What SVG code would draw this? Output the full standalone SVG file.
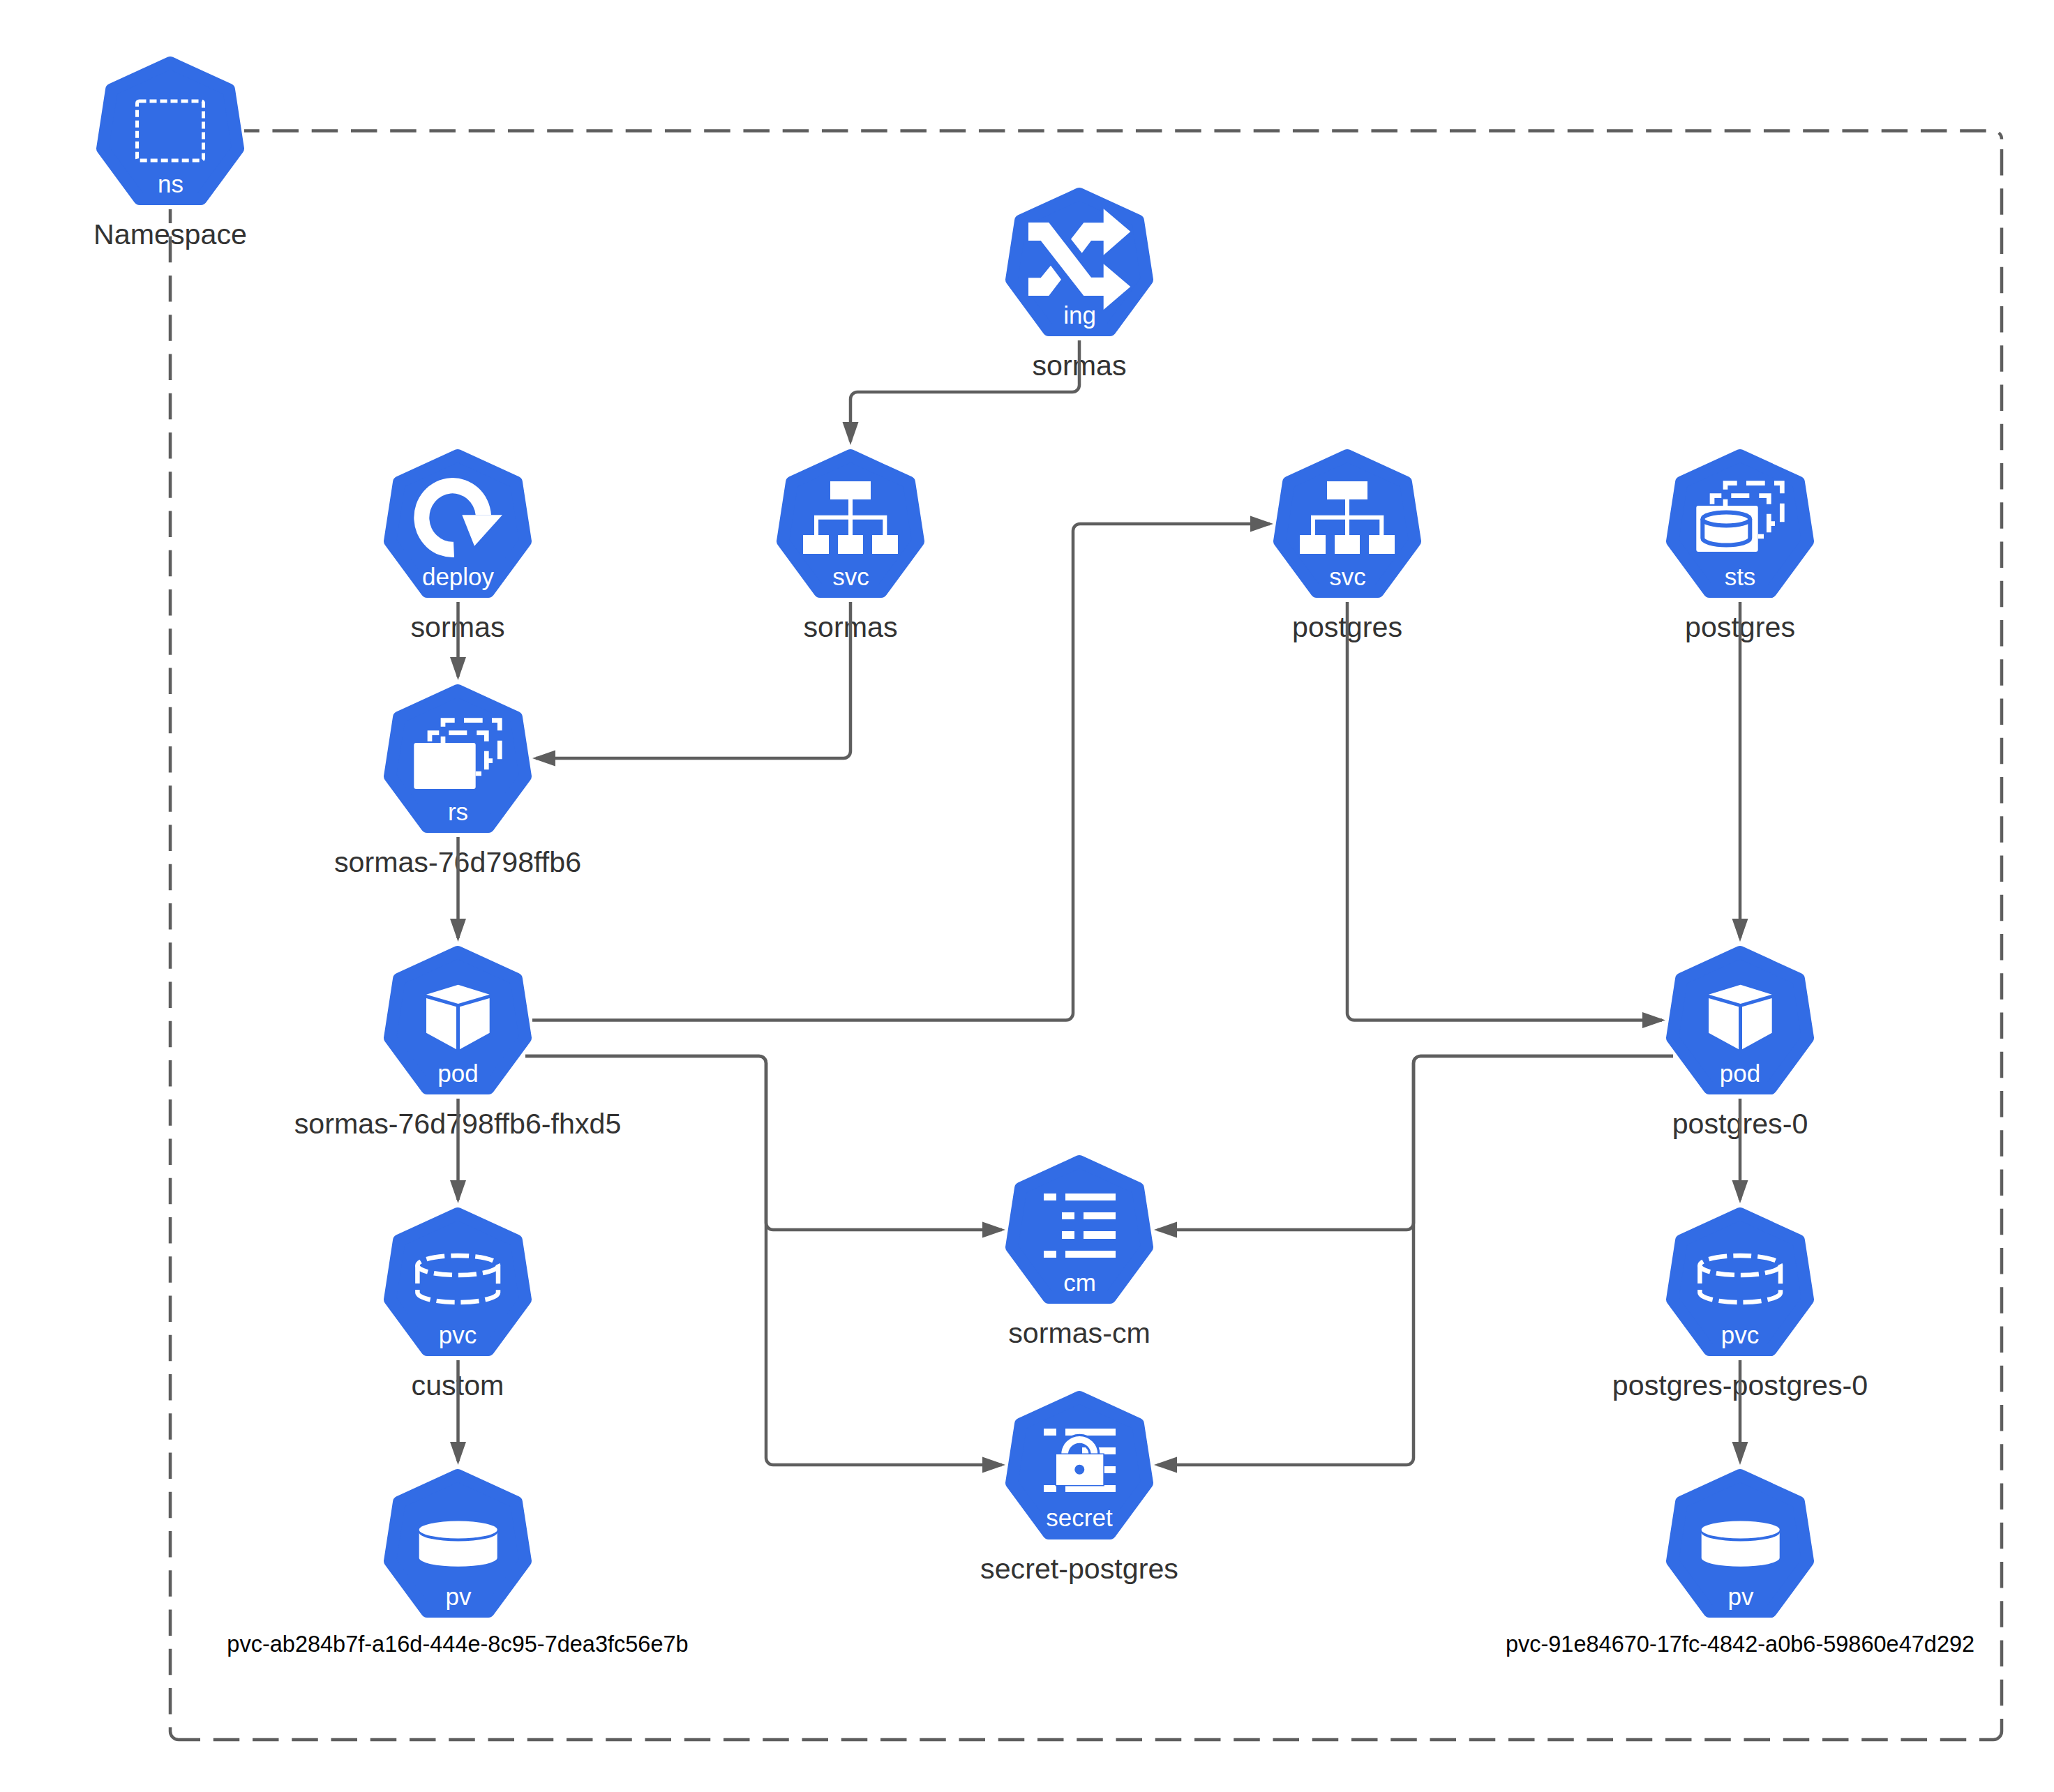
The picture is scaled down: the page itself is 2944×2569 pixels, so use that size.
<svg xmlns="http://www.w3.org/2000/svg" xmlns:xlink="http://www.w3.org/1999/xlink" width="2944" height="2569" viewBox="0 0 2944 2569">
<style>
text{font-family:"Liberation Sans",Arial,sans-serif;text-anchor:middle}
.kind{font-size:35px;fill:#fff}
.name{font-size:41.2px;fill:#333}
.pvname{font-size:32.5px;fill:#000}
.w{fill:#fff}
.wl{fill:none;stroke:#fff;stroke-width:6.7}
.hept{fill:#326ce5;stroke:#326ce5;stroke-width:18;stroke-linejoin:round}
.edge{fill:none;stroke:#5e5e5e;stroke-width:4.5;marker-end:url(#arrow)}
.frame{fill:none;stroke:#5e5e5e;stroke-width:4.5;stroke-dasharray:37.5 18.75}
</style>
<defs>
<marker id="arrow" markerUnits="userSpaceOnUse" markerWidth="33" markerHeight="24" refX="28" refY="12" orient="auto"><polygon points="0,0.500 33,12 0,23.500" fill="#5e5e5e"/></marker>
<polygon id="hept" class="hept" points="106,9 190,47.5 203,132 150,204 62,204 9,132 22,47.5"/>
<g id="svcicon">
<rect class="w" x="77" y="46" width="58" height="26"/>
<rect class="w" x="38" y="123" width="37" height="27"/>
<rect class="w" x="88" y="123" width="36" height="27"/>
<rect class="w" x="137" y="123" width="37" height="27"/>
<path d="M106,72V123M57,123V97.700H155.300V123" fill="none" stroke="#fff" stroke-width="6"/>
</g>
<g id="stack">
<rect class="w" x="43.300" y="84" width="88.400" height="66" rx="3"/>
<path class="wl" d="M85,60.700V51.700H101.700M115,51.700H141.700M155,51.700H166.300V66.300M166.300,80.700V107.300M147.300,109.700H156M66,81.700V69.700H79.300M93.300,69.700H119.300M133.300,69.700H147.300V81.700M147.300,95.700V122.300M131.700,128H140M85,74.700V84"/>
</g>
<g id="pod-icon">
<polygon class="w" points="61,69.700 106.700,55.700 151.700,69.700 106.700,83"/>
<polygon class="w" points="61,75 104,87.300 104,148.300 61,124.700"/>
<polygon class="w" points="109,87.300 151.700,75 151.700,124.700 109,148.300"/>
</g>
<g id="pvc-icon" fill="none" stroke="#fff" stroke-width="6.500" stroke-dasharray="26 9">
<ellipse cx="106.200" cy="83" rx="57.800" ry="14"/>
<path d="M48.400,83V122A57.800,14 0 0 0 164,122V83"/>
</g>
<g id="pv-icon">
<ellipse class="w" cx="106.700" cy="87" rx="56" ry="12.500"/>
<path class="w" d="M50.700,91A56,12.500 0 0 0 162.700,91V127.300A56,12.500 0 0 1 50.700,127.300Z"/>
</g>
</defs>
<rect width="2944" height="2569" fill="#fff"/>

<g id="node-ns" transform="translate(138,81)">
<use href="#hept"/>
<rect x="58.500" y="64" width="95" height="85" rx="3" fill="none" stroke="#fff" stroke-width="5" stroke-dasharray="10 5"/>
<text class="kind" x="106.500" y="194.500">ns</text>
<text class="name" x="106" y="269">Namespace</text>
</g>

<g id="node-ing" transform="translate(1441,269)">
<use href="#hept"/>
<polygon class="w" points="33,50 62.300,50 123,128.700 140.700,128.700 140.700,109.300 179.300,142 140.700,175 140.700,155 112.300,155 50.700,76 33,76"/>
<polygon class="w" points="94,73.700 112.300,50.300 140.700,50.300 140.700,30.300 179.300,63 140.700,96.700 140.700,76 123,76 109.700,93.700"/>
<polygon class="w" points="33,129.300 50.700,129.300 65,111.700 80,131.700 62.300,155 33,155"/>
<text class="kind" x="106.500" y="194.500">ing</text>
<text class="name" x="106" y="269">sormas</text>
</g>

<g id="node-deploy" transform="translate(550,644)">
<use href="#hept"/>
<path class="w" d="M101,155A55.400,57 0 1 1 154,94.300H131.700A33.300,34.700 0 1 0 100,132.700Z"/>
<polygon class="w" points="112.300,94.300 170,94.300 130,138.700"/>
<text class="kind" x="106.500" y="194.500">deploy</text>
<text class="name" x="106" y="269">sormas</text>
</g>

<g id="node-svc-sormas" transform="translate(1113,644)">
<use href="#hept"/>
<use href="#svcicon"/>
<text class="kind" x="106.500" y="194.500">svc</text>
<text class="name" x="106" y="269">sormas</text>
</g>

<g id="node-svc-postgres" transform="translate(1825,644)">
<use href="#hept"/>
<use href="#svcicon"/>
<text class="kind" x="106.500" y="194.500">svc</text>
<text class="name" x="106" y="269">postgres</text>
</g>

<g id="node-sts" transform="translate(2388,644)">
<use href="#hept"/>
<use href="#stack" transform="translate(0,-3)"/>
<path d="M52.300,100V127.500A34,10 0 0 0 120.300,127.500V100" fill="none" stroke="#326ce5" stroke-width="6"/>
<ellipse cx="86.300" cy="100" rx="34" ry="9.500" fill="none" stroke="#326ce5" stroke-width="6"/>
<text class="kind" x="106" y="194.500">sts</text>
<text class="name" x="106" y="269">postgres</text>
</g>

<g id="node-rs" transform="translate(550,981)">
<use href="#hept"/>
<use href="#stack"/>
<text class="kind" x="106.500" y="194.500">rs</text>
<text class="name" x="106" y="269">sormas-76d798ffb6</text>
</g>

<g id="node-pod-sormas" transform="translate(550,1356)">
<use href="#hept"/>
<use href="#pod-icon"/>
<text class="kind" x="106.500" y="195">pod</text>
<text class="name" x="106" y="269">sormas-76d798ffb6-fhxd5</text>
</g>

<g id="node-pod-postgres" transform="translate(2388,1356)">
<use href="#hept"/>
<use href="#pod-icon"/>
<text class="kind" x="106" y="195">pod</text>
<text class="name" x="106" y="269">postgres-0</text>
</g>

<g id="node-cm" transform="translate(1441,1656)">
<use href="#hept"/>
<rect class="w" x="55" y="55" width="18" height="10"/><rect class="w" x="86" y="55" width="72" height="10"/>
<rect class="w" x="81" y="82" width="18" height="10"/><rect class="w" x="112" y="82" width="46" height="10"/>
<rect class="w" x="81" y="109" width="18" height="11"/><rect class="w" x="112" y="109" width="46" height="11"/>
<rect class="w" x="55" y="137" width="18" height="10"/><rect class="w" x="86" y="137" width="72" height="10"/>
<text class="kind" x="106.500" y="195">cm</text>
<text class="name" x="106" y="269">sormas-cm</text>
</g>

<g id="node-secret" transform="translate(1441,1994)">
<use href="#hept"/>
<rect class="w" x="55" y="54" width="18" height="10"/><rect class="w" x="86" y="54" width="72" height="10"/>
<rect class="w" x="110" y="81" width="48" height="10"/>
<rect class="w" x="135" y="108" width="23" height="10"/>
<rect class="w" x="55" y="135" width="18" height="10"/><rect class="w" x="86" y="135" width="72" height="10"/>
<path d="M85.100,91A21.200,21.200 0 0 1 127.500,91" fill="none" stroke="#326ce5" stroke-width="16"/>
<path d="M85.100,91A21.200,21.200 0 0 1 127.500,91" fill="none" stroke="#fff" stroke-width="9.700"/>
<rect x="73" y="91" width="67.300" height="44" fill="#fff" stroke="#326ce5" stroke-width="3"/>
<rect class="w" x="73" y="91" width="67.300" height="44"/>
<circle cx="106.300" cy="112.700" r="7" fill="#326ce5"/>
<text class="kind" x="106" y="193.500">secret</text>
<text class="name" x="106" y="269">secret-postgres</text>
</g>

<g id="node-pvc-custom" transform="translate(550,1731)">
<use href="#hept"/>
<use href="#pvc-icon"/>
<text class="kind" x="106" y="195">pvc</text>
<text class="name" x="106" y="269">custom</text>
</g>

<g id="node-pvc-postgres" transform="translate(2388,1731)">
<use href="#hept"/>
<use href="#pvc-icon"/>
<text class="kind" x="106" y="195">pvc</text>
<text class="name" x="106" y="269">postgres-postgres-0</text>
</g>

<g id="node-pv-custom" transform="translate(550,2106)">
<use href="#hept"/>
<use href="#pv-icon"/>
<text class="kind" x="107" y="195">pv</text>
<text class="pvname" x="106" y="262">pvc-ab284b7f-a16d-444e-8c95-7dea3fc56e7b</text>
</g>

<g id="node-pv-postgres" transform="translate(2388,2106)">
<use href="#hept"/>
<use href="#pv-icon"/>
<text class="kind" x="107" y="195">pv</text>
<text class="pvname" x="106" y="262">pvc-91e84670-17fc-4842-a0b6-59860e47d292</text>
</g>

<g id="namespace-frame">
<path class="frame" stroke-dashoffset="15.800" d="M350,187.500H2857A12,12 0 0 1 2869,199.500"/>
<path class="frame" stroke-dashoffset="41.800" d="M2869,199.500V2482A12,12 0 0 1 2857,2494"/>
<path class="frame" stroke-dashoffset="17.500" d="M2857,2494H256"/>
<path class="frame" stroke-dashoffset="17.500" d="M244,300V2482A12,12 0 0 0 256,2494"/>
</g>

<g id="connectors">
<path class="edge" d="M1547,488V552A10,10 0 0 1 1537,562H1229A10,10 0 0 0 1219,572V633"/>
<path class="edge" d="M656.500,863V970"/>
<path class="edge" d="M1219,863V1077A10,10 0 0 1 1209,1087H768"/>
<path class="edge" d="M656.500,1200V1345"/>
<path class="edge" d="M763,1462.500H1528A10,10 0 0 0 1538,1452.500V761A10,10 0 0 1 1548,751H1820"/>
<path class="edge" d="M753,1514H1088A10,10 0 0 1 1098,1524V1753A10,10 0 0 0 1108,1763H1436"/>
<path class="edge" d="M753,1514H1088A10,10 0 0 1 1098,1524V2090A10,10 0 0 0 1108,2100H1436"/>
<path class="edge" d="M656.500,1575V1720"/>
<path class="edge" d="M656.500,1950V2095"/>
<path class="edge" d="M1931,863V1452.500A10,10 0 0 0 1941,1462.500H2382"/>
<path class="edge" d="M2494,863V1345"/>
<path class="edge" d="M2398,1514H2036A10,10 0 0 0 2026,1524V1753A10,10 0 0 1 2016,1763H1659"/>
<path class="edge" d="M2398,1514H2036A10,10 0 0 0 2026,1524V2090A10,10 0 0 1 2016,2100H1659"/>
<path class="edge" d="M2494,1575V1720"/>
<path class="edge" d="M2494,1950V2095"/>
</g>
</svg>
